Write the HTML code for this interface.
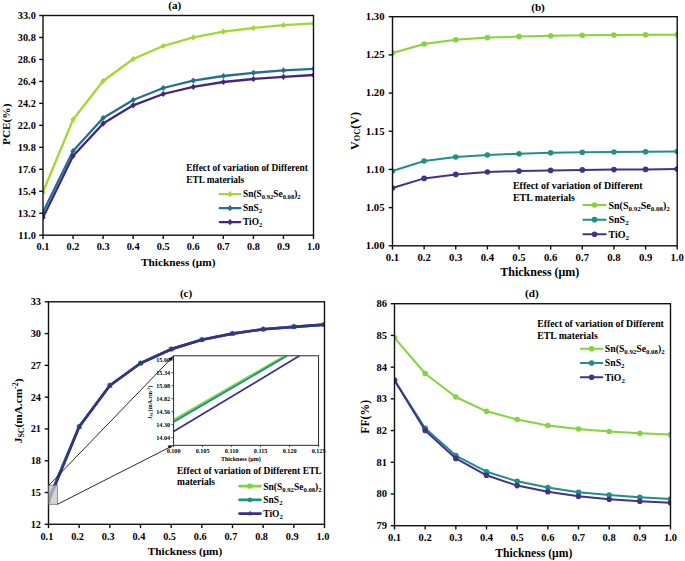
<!DOCTYPE html>
<html><head><meta charset="utf-8"><style>
html,body{margin:0;padding:0;background:#fff;}
svg{display:block;}
text{font-family:'Liberation Serif',serif;font-weight:bold;fill:#000;}
</style></head><body>
<svg width="685" height="561" viewBox="0 0 685 561">
<clipPath id="ca"><rect x="43" y="15.5" width="270.5" height="219.7"/></clipPath>
<g clip-path="url(#ca)">
<polyline points="43.00,192.00 73.06,119.50 103.11,81.00 133.17,59.00 163.22,46.00 193.28,37.40 223.33,31.60 253.39,28.00 283.44,25.20 313.50,23.40" fill="none" stroke="#a2d830" stroke-width="2.3" stroke-linejoin="round"/>
<path d="M43.00,188.90L45.73,192.00L43.00,195.10L40.27,192.00Z" fill="#a2d830"/>
<path d="M73.06,116.40L75.78,119.50L73.06,122.60L70.33,119.50Z" fill="#a2d830"/>
<path d="M103.11,77.90L105.84,81.00L103.11,84.10L100.38,81.00Z" fill="#a2d830"/>
<path d="M133.17,55.90L135.89,59.00L133.17,62.10L130.44,59.00Z" fill="#a2d830"/>
<path d="M163.22,42.90L165.95,46.00L163.22,49.10L160.49,46.00Z" fill="#a2d830"/>
<path d="M193.28,34.30L196.01,37.40L193.28,40.50L190.55,37.40Z" fill="#a2d830"/>
<path d="M223.33,28.50L226.06,31.60L223.33,34.70L220.61,31.60Z" fill="#a2d830"/>
<path d="M253.39,24.90L256.12,28.00L253.39,31.10L250.66,28.00Z" fill="#a2d830"/>
<path d="M283.44,22.10L286.17,25.20L283.44,28.30L280.72,25.20Z" fill="#a2d830"/>
<path d="M313.50,20.30L316.23,23.40L313.50,26.50L310.77,23.40Z" fill="#a2d830"/>
<polyline points="43.00,212.00 73.06,151.00 103.11,118.00 133.17,100.00 163.22,88.00 193.28,80.60 223.33,76.00 253.39,72.80 283.44,70.40 313.50,68.80" fill="none" stroke="#23708c" stroke-width="2.3" stroke-linejoin="round"/>
<path d="M43.00,208.90L45.73,212.00L43.00,215.10L40.27,212.00Z" fill="#23708c"/>
<path d="M73.06,147.90L75.78,151.00L73.06,154.10L70.33,151.00Z" fill="#23708c"/>
<path d="M103.11,114.90L105.84,118.00L103.11,121.10L100.38,118.00Z" fill="#23708c"/>
<path d="M133.17,96.90L135.89,100.00L133.17,103.10L130.44,100.00Z" fill="#23708c"/>
<path d="M163.22,84.90L165.95,88.00L163.22,91.10L160.49,88.00Z" fill="#23708c"/>
<path d="M193.28,77.50L196.01,80.60L193.28,83.70L190.55,80.60Z" fill="#23708c"/>
<path d="M223.33,72.90L226.06,76.00L223.33,79.10L220.61,76.00Z" fill="#23708c"/>
<path d="M253.39,69.70L256.12,72.80L253.39,75.90L250.66,72.80Z" fill="#23708c"/>
<path d="M283.44,67.30L286.17,70.40L283.44,73.50L280.72,70.40Z" fill="#23708c"/>
<path d="M313.50,65.70L316.23,68.80L313.50,71.90L310.77,68.80Z" fill="#23708c"/>
<polyline points="43.00,217.50 73.06,156.00 103.11,123.60 133.17,105.30 163.22,94.00 193.28,86.80 223.33,82.00 253.39,79.00 283.44,76.80 313.50,75.00" fill="none" stroke="#462580" stroke-width="2.3" stroke-linejoin="round"/>
<path d="M43.00,214.40L45.73,217.50L43.00,220.60L40.27,217.50Z" fill="#462580"/>
<path d="M73.06,152.90L75.78,156.00L73.06,159.10L70.33,156.00Z" fill="#462580"/>
<path d="M103.11,120.50L105.84,123.60L103.11,126.70L100.38,123.60Z" fill="#462580"/>
<path d="M133.17,102.20L135.89,105.30L133.17,108.40L130.44,105.30Z" fill="#462580"/>
<path d="M163.22,90.90L165.95,94.00L163.22,97.10L160.49,94.00Z" fill="#462580"/>
<path d="M193.28,83.70L196.01,86.80L193.28,89.90L190.55,86.80Z" fill="#462580"/>
<path d="M223.33,78.90L226.06,82.00L223.33,85.10L220.61,82.00Z" fill="#462580"/>
<path d="M253.39,75.90L256.12,79.00L253.39,82.10L250.66,79.00Z" fill="#462580"/>
<path d="M283.44,73.70L286.17,76.80L283.44,79.90L280.72,76.80Z" fill="#462580"/>
<path d="M313.50,71.90L316.23,75.00L313.50,78.10L310.77,75.00Z" fill="#462580"/>
</g>
<rect x="43" y="15.5" width="270.5" height="219.7" fill="none" stroke="#111" stroke-width="1.4"/>
<line x1="39.2" y1="235.20" x2="43" y2="235.20" stroke="#111" stroke-width="1.4"/>
<text x="35.80" y="238.60" font-size="10.3" text-anchor="end" >11.0</text>
<line x1="39.2" y1="213.23" x2="43" y2="213.23" stroke="#111" stroke-width="1.4"/>
<text x="35.80" y="216.63" font-size="10.3" text-anchor="end" >13.2</text>
<line x1="39.2" y1="191.26" x2="43" y2="191.26" stroke="#111" stroke-width="1.4"/>
<text x="35.80" y="194.66" font-size="10.3" text-anchor="end" >15.4</text>
<line x1="39.2" y1="169.29" x2="43" y2="169.29" stroke="#111" stroke-width="1.4"/>
<text x="35.80" y="172.69" font-size="10.3" text-anchor="end" >17.6</text>
<line x1="39.2" y1="147.32" x2="43" y2="147.32" stroke="#111" stroke-width="1.4"/>
<text x="35.80" y="150.72" font-size="10.3" text-anchor="end" >19.8</text>
<line x1="39.2" y1="125.35" x2="43" y2="125.35" stroke="#111" stroke-width="1.4"/>
<text x="35.80" y="128.75" font-size="10.3" text-anchor="end" >22.0</text>
<line x1="39.2" y1="103.38" x2="43" y2="103.38" stroke="#111" stroke-width="1.4"/>
<text x="35.80" y="106.78" font-size="10.3" text-anchor="end" >24.2</text>
<line x1="39.2" y1="81.41" x2="43" y2="81.41" stroke="#111" stroke-width="1.4"/>
<text x="35.80" y="84.81" font-size="10.3" text-anchor="end" >26.4</text>
<line x1="39.2" y1="59.44" x2="43" y2="59.44" stroke="#111" stroke-width="1.4"/>
<text x="35.80" y="62.84" font-size="10.3" text-anchor="end" >28.6</text>
<line x1="39.2" y1="37.47" x2="43" y2="37.47" stroke="#111" stroke-width="1.4"/>
<text x="35.80" y="40.87" font-size="10.3" text-anchor="end" >30.8</text>
<line x1="39.2" y1="15.50" x2="43" y2="15.50" stroke="#111" stroke-width="1.4"/>
<text x="35.80" y="18.90" font-size="10.3" text-anchor="end" >33.0</text>
<line x1="43.00" y1="235.2" x2="43.00" y2="239.0" stroke="#111" stroke-width="1.4"/>
<text x="43.00" y="250.00" font-size="10.3" text-anchor="middle" >0.1</text>
<line x1="73.06" y1="235.2" x2="73.06" y2="239.0" stroke="#111" stroke-width="1.4"/>
<text x="73.06" y="250.00" font-size="10.3" text-anchor="middle" >0.2</text>
<line x1="103.11" y1="235.2" x2="103.11" y2="239.0" stroke="#111" stroke-width="1.4"/>
<text x="103.11" y="250.00" font-size="10.3" text-anchor="middle" >0.3</text>
<line x1="133.17" y1="235.2" x2="133.17" y2="239.0" stroke="#111" stroke-width="1.4"/>
<text x="133.17" y="250.00" font-size="10.3" text-anchor="middle" >0.4</text>
<line x1="163.22" y1="235.2" x2="163.22" y2="239.0" stroke="#111" stroke-width="1.4"/>
<text x="163.22" y="250.00" font-size="10.3" text-anchor="middle" >0.5</text>
<line x1="193.28" y1="235.2" x2="193.28" y2="239.0" stroke="#111" stroke-width="1.4"/>
<text x="193.28" y="250.00" font-size="10.3" text-anchor="middle" >0.6</text>
<line x1="223.33" y1="235.2" x2="223.33" y2="239.0" stroke="#111" stroke-width="1.4"/>
<text x="223.33" y="250.00" font-size="10.3" text-anchor="middle" >0.7</text>
<line x1="253.39" y1="235.2" x2="253.39" y2="239.0" stroke="#111" stroke-width="1.4"/>
<text x="253.39" y="250.00" font-size="10.3" text-anchor="middle" >0.8</text>
<line x1="283.44" y1="235.2" x2="283.44" y2="239.0" stroke="#111" stroke-width="1.4"/>
<text x="283.44" y="250.00" font-size="10.3" text-anchor="middle" >0.9</text>
<line x1="313.50" y1="235.2" x2="313.50" y2="239.0" stroke="#111" stroke-width="1.4"/>
<text x="313.50" y="250.00" font-size="10.3" text-anchor="middle" >1.0</text>
<text x="178.20" y="265.70" font-size="11.3" text-anchor="middle" >Thickness (μm)</text>
<text x="174.80" y="9.40" font-size="11.2" text-anchor="middle" >(a)</text>
<text transform="translate(9.6,124.3) rotate(-90)" font-size="11.3" text-anchor="middle">PCE(%)</text>
<text x="186.20" y="170.90" font-size="9.4" text-anchor="start" >Effect of variation of Different</text>
<text x="186.20" y="183.00" font-size="9.4" text-anchor="start" >ETL materials</text>
<line x1="219.8" y1="194.20" x2="240.3" y2="194.20" stroke="#a2d830" stroke-width="2.3" stroke-linecap="round"/>
<path d="M230.05,191.10L232.78,194.20L230.05,197.30L227.32,194.20Z" fill="#a2d830"/>
<text x="243.0" y="197.40" font-size="9.4">Sn(S<tspan font-size="70%" dy="2">0.92</tspan><tspan dy="-2">Se</tspan><tspan font-size="70%" dy="2">0.08</tspan><tspan dy="-2">)</tspan><tspan font-size="70%" dy="2">2</tspan></text>
<line x1="219.8" y1="208.15" x2="240.3" y2="208.15" stroke="#23708c" stroke-width="2.3" stroke-linecap="round"/>
<path d="M230.05,205.05L232.78,208.15L230.05,211.25L227.32,208.15Z" fill="#23708c"/>
<text x="243.0" y="211.35" font-size="9.4">SnS<tspan font-size="70%" dy="2">2</tspan></text>
<line x1="219.8" y1="222.10" x2="240.3" y2="222.10" stroke="#462580" stroke-width="2.3" stroke-linecap="round"/>
<path d="M230.05,219.00L232.78,222.10L230.05,225.20L227.32,222.10Z" fill="#462580"/>
<text x="243.0" y="225.30" font-size="9.4">TiO<tspan font-size="70%" dy="2">2</tspan></text>
<clipPath id="cb"><rect x="392.5" y="16.7" width="284.70000000000005" height="229.10000000000002"/></clipPath>
<g clip-path="url(#cb)">
<polyline points="392.50,53.00 424.13,44.00 455.77,39.80 487.40,37.60 519.03,36.60 550.67,35.80 582.30,35.30 613.93,35.10 645.57,34.80 677.20,34.80" fill="none" stroke="#84d43c" stroke-width="2" stroke-linejoin="round"/>
<circle cx="392.50" cy="53.00" r="2.80" fill="#84d43c"/>
<circle cx="424.13" cy="44.00" r="2.80" fill="#84d43c"/>
<circle cx="455.77" cy="39.80" r="2.80" fill="#84d43c"/>
<circle cx="487.40" cy="37.60" r="2.80" fill="#84d43c"/>
<circle cx="519.03" cy="36.60" r="2.80" fill="#84d43c"/>
<circle cx="550.67" cy="35.80" r="2.80" fill="#84d43c"/>
<circle cx="582.30" cy="35.30" r="2.80" fill="#84d43c"/>
<circle cx="613.93" cy="35.10" r="2.80" fill="#84d43c"/>
<circle cx="645.57" cy="34.80" r="2.80" fill="#84d43c"/>
<circle cx="677.20" cy="34.80" r="2.80" fill="#84d43c"/>
<polyline points="392.50,171.00 424.13,161.00 455.77,157.00 487.40,155.00 519.03,153.70 550.67,152.80 582.30,152.30 613.93,152.00 645.57,151.80 677.20,151.50" fill="none" stroke="#1e9088" stroke-width="2" stroke-linejoin="round"/>
<circle cx="392.50" cy="171.00" r="2.80" fill="#1e9088"/>
<circle cx="424.13" cy="161.00" r="2.80" fill="#1e9088"/>
<circle cx="455.77" cy="157.00" r="2.80" fill="#1e9088"/>
<circle cx="487.40" cy="155.00" r="2.80" fill="#1e9088"/>
<circle cx="519.03" cy="153.70" r="2.80" fill="#1e9088"/>
<circle cx="550.67" cy="152.80" r="2.80" fill="#1e9088"/>
<circle cx="582.30" cy="152.30" r="2.80" fill="#1e9088"/>
<circle cx="613.93" cy="152.00" r="2.80" fill="#1e9088"/>
<circle cx="645.57" cy="151.80" r="2.80" fill="#1e9088"/>
<circle cx="677.20" cy="151.50" r="2.80" fill="#1e9088"/>
<polyline points="392.50,188.00 424.13,178.40 455.77,174.40 487.40,172.00 519.03,171.10 550.67,170.40 582.30,169.90 613.93,169.60 645.57,169.40 677.20,169.10" fill="none" stroke="#44318a" stroke-width="2" stroke-linejoin="round"/>
<circle cx="392.50" cy="188.00" r="2.80" fill="#44318a"/>
<circle cx="424.13" cy="178.40" r="2.80" fill="#44318a"/>
<circle cx="455.77" cy="174.40" r="2.80" fill="#44318a"/>
<circle cx="487.40" cy="172.00" r="2.80" fill="#44318a"/>
<circle cx="519.03" cy="171.10" r="2.80" fill="#44318a"/>
<circle cx="550.67" cy="170.40" r="2.80" fill="#44318a"/>
<circle cx="582.30" cy="169.90" r="2.80" fill="#44318a"/>
<circle cx="613.93" cy="169.60" r="2.80" fill="#44318a"/>
<circle cx="645.57" cy="169.40" r="2.80" fill="#44318a"/>
<circle cx="677.20" cy="169.10" r="2.80" fill="#44318a"/>
</g>
<rect x="392.5" y="16.7" width="284.70000000000005" height="229.10000000000002" fill="none" stroke="#111" stroke-width="1.4"/>
<line x1="388.7" y1="245.80" x2="392.5" y2="245.80" stroke="#111" stroke-width="1.4"/>
<text x="384.50" y="249.20" font-size="10.7" text-anchor="end" >1.00</text>
<line x1="388.7" y1="207.62" x2="392.5" y2="207.62" stroke="#111" stroke-width="1.4"/>
<text x="384.50" y="211.02" font-size="10.7" text-anchor="end" >1.05</text>
<line x1="388.7" y1="169.43" x2="392.5" y2="169.43" stroke="#111" stroke-width="1.4"/>
<text x="384.50" y="172.83" font-size="10.7" text-anchor="end" >1.10</text>
<line x1="388.7" y1="131.25" x2="392.5" y2="131.25" stroke="#111" stroke-width="1.4"/>
<text x="384.50" y="134.65" font-size="10.7" text-anchor="end" >1.15</text>
<line x1="388.7" y1="93.07" x2="392.5" y2="93.07" stroke="#111" stroke-width="1.4"/>
<text x="384.50" y="96.47" font-size="10.7" text-anchor="end" >1.20</text>
<line x1="388.7" y1="54.88" x2="392.5" y2="54.88" stroke="#111" stroke-width="1.4"/>
<text x="384.50" y="58.28" font-size="10.7" text-anchor="end" >1.25</text>
<line x1="388.7" y1="16.70" x2="392.5" y2="16.70" stroke="#111" stroke-width="1.4"/>
<text x="384.50" y="20.10" font-size="10.7" text-anchor="end" >1.30</text>
<line x1="392.50" y1="245.8" x2="392.50" y2="249.60000000000002" stroke="#111" stroke-width="1.4"/>
<text x="392.50" y="261.20" font-size="10.7" text-anchor="middle" >0.1</text>
<line x1="424.13" y1="245.8" x2="424.13" y2="249.60000000000002" stroke="#111" stroke-width="1.4"/>
<text x="424.13" y="261.20" font-size="10.7" text-anchor="middle" >0.2</text>
<line x1="455.77" y1="245.8" x2="455.77" y2="249.60000000000002" stroke="#111" stroke-width="1.4"/>
<text x="455.77" y="261.20" font-size="10.7" text-anchor="middle" >0.3</text>
<line x1="487.40" y1="245.8" x2="487.40" y2="249.60000000000002" stroke="#111" stroke-width="1.4"/>
<text x="487.40" y="261.20" font-size="10.7" text-anchor="middle" >0.4</text>
<line x1="519.03" y1="245.8" x2="519.03" y2="249.60000000000002" stroke="#111" stroke-width="1.4"/>
<text x="519.03" y="261.20" font-size="10.7" text-anchor="middle" >0.5</text>
<line x1="550.67" y1="245.8" x2="550.67" y2="249.60000000000002" stroke="#111" stroke-width="1.4"/>
<text x="550.67" y="261.20" font-size="10.7" text-anchor="middle" >0.6</text>
<line x1="582.30" y1="245.8" x2="582.30" y2="249.60000000000002" stroke="#111" stroke-width="1.4"/>
<text x="582.30" y="261.20" font-size="10.7" text-anchor="middle" >0.7</text>
<line x1="613.93" y1="245.8" x2="613.93" y2="249.60000000000002" stroke="#111" stroke-width="1.4"/>
<text x="613.93" y="261.20" font-size="10.7" text-anchor="middle" >0.8</text>
<line x1="645.57" y1="245.8" x2="645.57" y2="249.60000000000002" stroke="#111" stroke-width="1.4"/>
<text x="645.57" y="261.20" font-size="10.7" text-anchor="middle" >0.9</text>
<line x1="677.20" y1="245.8" x2="677.20" y2="249.60000000000002" stroke="#111" stroke-width="1.4"/>
<text x="677.20" y="261.20" font-size="10.7" text-anchor="middle" >1.0</text>
<text x="539.80" y="275.70" font-size="12" text-anchor="middle" >Thickness (μm)</text>
<text x="538.00" y="10.80" font-size="11.2" text-anchor="middle" >(b)</text>
<text transform="translate(358.7,131) rotate(-90)" font-size="12" text-anchor="middle">V<tspan font-size="70%" dy="1.5">OC</tspan><tspan dy="-1.5">(V)</tspan></text>
<text x="512.90" y="188.70" font-size="10" text-anchor="start" >Effect of variation of Different</text>
<text x="512.90" y="200.70" font-size="10" text-anchor="start" >ETL materials</text>
<line x1="583.4" y1="205.00" x2="605.7" y2="205.00" stroke="#84d43c" stroke-width="2" stroke-linecap="round"/>
<circle cx="594.55" cy="205.00" r="2.80" fill="#84d43c"/>
<text x="608.5" y="208.60" font-size="10">Sn(S<tspan font-size="70%" dy="2">0.92</tspan><tspan dy="-2">Se</tspan><tspan font-size="70%" dy="2">0.08</tspan><tspan dy="-2">)</tspan><tspan font-size="70%" dy="2">2</tspan></text>
<line x1="583.4" y1="219.65" x2="605.7" y2="219.65" stroke="#1e9088" stroke-width="2" stroke-linecap="round"/>
<circle cx="594.55" cy="219.65" r="2.80" fill="#1e9088"/>
<text x="608.5" y="223.25" font-size="10">SnS<tspan font-size="70%" dy="2">2</tspan></text>
<line x1="583.4" y1="234.30" x2="605.7" y2="234.30" stroke="#44318a" stroke-width="2" stroke-linecap="round"/>
<circle cx="594.55" cy="234.30" r="2.80" fill="#44318a"/>
<text x="608.5" y="237.90" font-size="10">TiO<tspan font-size="70%" dy="2">2</tspan></text>
<clipPath id="cc"><rect x="48.5" y="301.8" width="276.0" height="222.49999999999994"/></clipPath>
<g clip-path="url(#cc)">
<polyline points="48.50,499.19 79.17,426.72 109.83,385.50 140.50,363.25 171.17,349.16 201.83,339.73 232.50,333.59 263.17,329.24 293.83,326.80 324.50,324.69" fill="none" stroke="#84d43c" stroke-width="2.7" stroke-linejoin="round"/>
<rect x="46.05" y="496.74" width="4.90" height="4.90" fill="#84d43c"/>
<rect x="76.72" y="424.27" width="4.90" height="4.90" fill="#84d43c"/>
<rect x="107.38" y="383.05" width="4.90" height="4.90" fill="#84d43c"/>
<rect x="138.05" y="360.80" width="4.90" height="4.90" fill="#84d43c"/>
<rect x="168.72" y="346.71" width="4.90" height="4.90" fill="#84d43c"/>
<rect x="199.38" y="337.28" width="4.90" height="4.90" fill="#84d43c"/>
<rect x="230.05" y="331.14" width="4.90" height="4.90" fill="#84d43c"/>
<rect x="260.72" y="326.79" width="4.90" height="4.90" fill="#84d43c"/>
<rect x="291.38" y="324.35" width="4.90" height="4.90" fill="#84d43c"/>
<rect x="322.05" y="322.24" width="4.90" height="4.90" fill="#84d43c"/>
<polyline points="48.50,499.40 79.17,426.72 109.83,385.50 140.50,363.25 171.17,349.16 201.83,339.73 232.50,333.59 263.17,329.24 293.83,326.80 324.50,324.69" fill="none" stroke="#1e9088" stroke-width="2.7" stroke-linejoin="round"/>
<circle cx="48.50" cy="499.40" r="2.45" fill="#1e9088"/>
<circle cx="79.17" cy="426.72" r="2.45" fill="#1e9088"/>
<circle cx="109.83" cy="385.50" r="2.45" fill="#1e9088"/>
<circle cx="140.50" cy="363.25" r="2.45" fill="#1e9088"/>
<circle cx="171.17" cy="349.16" r="2.45" fill="#1e9088"/>
<circle cx="201.83" cy="339.73" r="2.45" fill="#1e9088"/>
<circle cx="232.50" cy="333.59" r="2.45" fill="#1e9088"/>
<circle cx="263.17" cy="329.24" r="2.45" fill="#1e9088"/>
<circle cx="293.83" cy="326.80" r="2.45" fill="#1e9088"/>
<circle cx="324.50" cy="324.69" r="2.45" fill="#1e9088"/>
<polyline points="48.50,501.52 79.17,426.72 109.83,385.50 140.50,363.25 171.17,349.16 201.83,339.73 232.50,333.59 263.17,329.24 293.83,326.80 324.50,324.69" fill="none" stroke="#3d2e8c" stroke-width="2.7" stroke-linejoin="round"/>
<path d="M48.50,498.34L50.95,503.24L46.05,503.24Z" fill="#3d2e8c"/>
<path d="M79.17,423.53L81.62,428.43L76.72,428.43Z" fill="#3d2e8c"/>
<path d="M109.83,382.32L112.28,387.22L107.38,387.22Z" fill="#3d2e8c"/>
<path d="M140.50,360.07L142.95,364.97L138.05,364.97Z" fill="#3d2e8c"/>
<path d="M171.17,345.98L173.62,350.88L168.72,350.88Z" fill="#3d2e8c"/>
<path d="M201.83,336.55L204.28,341.45L199.38,341.45Z" fill="#3d2e8c"/>
<path d="M232.50,330.40L234.95,335.30L230.05,335.30Z" fill="#3d2e8c"/>
<path d="M263.17,326.06L265.62,330.96L260.72,330.96Z" fill="#3d2e8c"/>
<path d="M293.83,323.62L296.28,328.52L291.38,328.52Z" fill="#3d2e8c"/>
<path d="M324.50,321.50L326.95,326.40L322.05,326.40Z" fill="#3d2e8c"/>
</g>
<rect x="48.5" y="301.8" width="276.0" height="222.49999999999994" fill="none" stroke="#111" stroke-width="1.4"/>
<line x1="44.7" y1="524.30" x2="48.5" y2="524.30" stroke="#111" stroke-width="1.4"/>
<text x="41.00" y="527.70" font-size="10.3" text-anchor="end" >12</text>
<line x1="44.7" y1="492.51" x2="48.5" y2="492.51" stroke="#111" stroke-width="1.4"/>
<text x="41.00" y="495.91" font-size="10.3" text-anchor="end" >15</text>
<line x1="44.7" y1="460.73" x2="48.5" y2="460.73" stroke="#111" stroke-width="1.4"/>
<text x="41.00" y="464.13" font-size="10.3" text-anchor="end" >18</text>
<line x1="44.7" y1="428.94" x2="48.5" y2="428.94" stroke="#111" stroke-width="1.4"/>
<text x="41.00" y="432.34" font-size="10.3" text-anchor="end" >21</text>
<line x1="44.7" y1="397.16" x2="48.5" y2="397.16" stroke="#111" stroke-width="1.4"/>
<text x="41.00" y="400.56" font-size="10.3" text-anchor="end" >24</text>
<line x1="44.7" y1="365.37" x2="48.5" y2="365.37" stroke="#111" stroke-width="1.4"/>
<text x="41.00" y="368.77" font-size="10.3" text-anchor="end" >27</text>
<line x1="44.7" y1="333.59" x2="48.5" y2="333.59" stroke="#111" stroke-width="1.4"/>
<text x="41.00" y="336.99" font-size="10.3" text-anchor="end" >30</text>
<line x1="44.7" y1="301.80" x2="48.5" y2="301.80" stroke="#111" stroke-width="1.4"/>
<text x="41.00" y="305.20" font-size="10.3" text-anchor="end" >33</text>
<line x1="48.50" y1="524.3" x2="48.50" y2="528.0999999999999" stroke="#111" stroke-width="1.4"/>
<text x="46.90" y="539.50" font-size="10.3" text-anchor="middle" >0.1</text>
<line x1="79.17" y1="524.3" x2="79.17" y2="528.0999999999999" stroke="#111" stroke-width="1.4"/>
<text x="77.57" y="539.50" font-size="10.3" text-anchor="middle" >0.2</text>
<line x1="109.83" y1="524.3" x2="109.83" y2="528.0999999999999" stroke="#111" stroke-width="1.4"/>
<text x="108.23" y="539.50" font-size="10.3" text-anchor="middle" >0.3</text>
<line x1="140.50" y1="524.3" x2="140.50" y2="528.0999999999999" stroke="#111" stroke-width="1.4"/>
<text x="138.90" y="539.50" font-size="10.3" text-anchor="middle" >0.4</text>
<line x1="171.17" y1="524.3" x2="171.17" y2="528.0999999999999" stroke="#111" stroke-width="1.4"/>
<text x="169.57" y="539.50" font-size="10.3" text-anchor="middle" >0.5</text>
<line x1="201.83" y1="524.3" x2="201.83" y2="528.0999999999999" stroke="#111" stroke-width="1.4"/>
<text x="200.23" y="539.50" font-size="10.3" text-anchor="middle" >0.6</text>
<line x1="232.50" y1="524.3" x2="232.50" y2="528.0999999999999" stroke="#111" stroke-width="1.4"/>
<text x="230.90" y="539.50" font-size="10.3" text-anchor="middle" >0.7</text>
<line x1="263.17" y1="524.3" x2="263.17" y2="528.0999999999999" stroke="#111" stroke-width="1.4"/>
<text x="261.57" y="539.50" font-size="10.3" text-anchor="middle" >0.8</text>
<line x1="293.83" y1="524.3" x2="293.83" y2="528.0999999999999" stroke="#111" stroke-width="1.4"/>
<text x="292.23" y="539.50" font-size="10.3" text-anchor="middle" >0.9</text>
<line x1="324.50" y1="524.3" x2="324.50" y2="528.0999999999999" stroke="#111" stroke-width="1.4"/>
<text x="322.90" y="539.50" font-size="10.3" text-anchor="middle" >1.0</text>
<text x="185.00" y="555.20" font-size="11.3" text-anchor="middle" >Thickness (μm)</text>
<text x="186.10" y="296.60" font-size="11.2" text-anchor="middle" >(c)</text>
<text transform="translate(22,410.9) rotate(-90)" font-size="11.3" text-anchor="middle">J<tspan font-size="70%" dy="2">SC</tspan><tspan dy="-2">(mA.cm</tspan><tspan font-size="70%" dy="-4">-2</tspan><tspan dy="4">)</tspan></text>
<text x="177.00" y="473.50" font-size="9.5" text-anchor="start" >Effect of variation of Different ETL</text>
<text x="177.00" y="484.50" font-size="9.5" text-anchor="start" >materials</text>
<line x1="239.5" y1="486.10" x2="260.5" y2="486.10" stroke="#84d43c" stroke-width="2.7" stroke-linecap="round"/>
<rect x="247.55" y="483.65" width="4.90" height="4.90" fill="#84d43c"/>
<text x="263.3" y="489.50" font-size="9.5">Sn(S<tspan font-size="70%" dy="2">0.92</tspan><tspan dy="-2">Se</tspan><tspan font-size="70%" dy="2">0.08</tspan><tspan dy="-2">)</tspan><tspan font-size="70%" dy="2">2</tspan></text>
<line x1="239.5" y1="499.85" x2="260.5" y2="499.85" stroke="#1e9088" stroke-width="2.7" stroke-linecap="round"/>
<circle cx="250.00" cy="499.85" r="2.45" fill="#1e9088"/>
<text x="263.3" y="503.25" font-size="9.5">SnS<tspan font-size="70%" dy="2">2</tspan></text>
<line x1="239.5" y1="513.60" x2="260.5" y2="513.60" stroke="#3d2e8c" stroke-width="2.7" stroke-linecap="round"/>
<path d="M250.00,510.42L252.45,515.32L247.55,515.32Z" fill="#3d2e8c"/>
<text x="263.3" y="517.00" font-size="9.5">TiO<tspan font-size="70%" dy="2">2</tspan></text>
<clipPath id="cd"><rect x="394.5" y="303.7" width="276.0" height="222.00000000000006"/></clipPath>
<g clip-path="url(#cd)">
<polyline points="394.50,337.80 425.17,373.50 455.83,397.00 486.50,411.30 517.17,419.50 547.83,425.50 578.50,429.00 609.17,431.50 639.83,433.20 670.50,434.40" fill="none" stroke="#84d43c" stroke-width="2" stroke-linejoin="round"/>
<circle cx="394.50" cy="337.80" r="2.80" fill="#84d43c"/>
<circle cx="425.17" cy="373.50" r="2.80" fill="#84d43c"/>
<circle cx="455.83" cy="397.00" r="2.80" fill="#84d43c"/>
<circle cx="486.50" cy="411.30" r="2.80" fill="#84d43c"/>
<circle cx="517.17" cy="419.50" r="2.80" fill="#84d43c"/>
<circle cx="547.83" cy="425.50" r="2.80" fill="#84d43c"/>
<circle cx="578.50" cy="429.00" r="2.80" fill="#84d43c"/>
<circle cx="609.17" cy="431.50" r="2.80" fill="#84d43c"/>
<circle cx="639.83" cy="433.20" r="2.80" fill="#84d43c"/>
<circle cx="670.50" cy="434.40" r="2.80" fill="#84d43c"/>
<polyline points="394.50,380.30 425.17,428.20 455.83,455.60 486.50,471.70 517.17,481.30 547.83,487.60 578.50,492.20 609.17,495.10 639.83,497.20 670.50,499.00" fill="none" stroke="#1e9088" stroke-width="2" stroke-linejoin="round"/>
<circle cx="394.50" cy="380.30" r="2.80" fill="#1e9088"/>
<circle cx="425.17" cy="428.20" r="2.80" fill="#1e9088"/>
<circle cx="455.83" cy="455.60" r="2.80" fill="#1e9088"/>
<circle cx="486.50" cy="471.70" r="2.80" fill="#1e9088"/>
<circle cx="517.17" cy="481.30" r="2.80" fill="#1e9088"/>
<circle cx="547.83" cy="487.60" r="2.80" fill="#1e9088"/>
<circle cx="578.50" cy="492.20" r="2.80" fill="#1e9088"/>
<circle cx="609.17" cy="495.10" r="2.80" fill="#1e9088"/>
<circle cx="639.83" cy="497.20" r="2.80" fill="#1e9088"/>
<circle cx="670.50" cy="499.00" r="2.80" fill="#1e9088"/>
<polyline points="394.50,380.30 425.17,430.40 455.83,458.40 486.50,475.30 517.17,485.60 547.83,491.80 578.50,496.30 609.17,499.20 639.83,501.30 670.50,502.80" fill="none" stroke="#44318a" stroke-width="2" stroke-linejoin="round"/>
<circle cx="394.50" cy="380.30" r="2.80" fill="#44318a"/>
<circle cx="425.17" cy="430.40" r="2.80" fill="#44318a"/>
<circle cx="455.83" cy="458.40" r="2.80" fill="#44318a"/>
<circle cx="486.50" cy="475.30" r="2.80" fill="#44318a"/>
<circle cx="517.17" cy="485.60" r="2.80" fill="#44318a"/>
<circle cx="547.83" cy="491.80" r="2.80" fill="#44318a"/>
<circle cx="578.50" cy="496.30" r="2.80" fill="#44318a"/>
<circle cx="609.17" cy="499.20" r="2.80" fill="#44318a"/>
<circle cx="639.83" cy="501.30" r="2.80" fill="#44318a"/>
<circle cx="670.50" cy="502.80" r="2.80" fill="#44318a"/>
</g>
<rect x="394.5" y="303.7" width="276.0" height="222.00000000000006" fill="none" stroke="#111" stroke-width="1.4"/>
<line x1="390.7" y1="525.70" x2="394.5" y2="525.70" stroke="#111" stroke-width="1.4"/>
<text x="387.00" y="529.10" font-size="10.5" text-anchor="end" >79</text>
<line x1="390.7" y1="493.99" x2="394.5" y2="493.99" stroke="#111" stroke-width="1.4"/>
<text x="387.00" y="497.39" font-size="10.5" text-anchor="end" >80</text>
<line x1="390.7" y1="462.27" x2="394.5" y2="462.27" stroke="#111" stroke-width="1.4"/>
<text x="387.00" y="465.67" font-size="10.5" text-anchor="end" >81</text>
<line x1="390.7" y1="430.56" x2="394.5" y2="430.56" stroke="#111" stroke-width="1.4"/>
<text x="387.00" y="433.96" font-size="10.5" text-anchor="end" >82</text>
<line x1="390.7" y1="398.84" x2="394.5" y2="398.84" stroke="#111" stroke-width="1.4"/>
<text x="387.00" y="402.24" font-size="10.5" text-anchor="end" >83</text>
<line x1="390.7" y1="367.13" x2="394.5" y2="367.13" stroke="#111" stroke-width="1.4"/>
<text x="387.00" y="370.53" font-size="10.5" text-anchor="end" >84</text>
<line x1="390.7" y1="335.41" x2="394.5" y2="335.41" stroke="#111" stroke-width="1.4"/>
<text x="387.00" y="338.81" font-size="10.5" text-anchor="end" >85</text>
<line x1="390.7" y1="303.70" x2="394.5" y2="303.70" stroke="#111" stroke-width="1.4"/>
<text x="387.00" y="307.10" font-size="10.5" text-anchor="end" >86</text>
<line x1="394.50" y1="525.7" x2="394.50" y2="529.5" stroke="#111" stroke-width="1.4"/>
<text x="394.50" y="540.70" font-size="10.5" text-anchor="middle" >0.1</text>
<line x1="425.17" y1="525.7" x2="425.17" y2="529.5" stroke="#111" stroke-width="1.4"/>
<text x="425.17" y="540.70" font-size="10.5" text-anchor="middle" >0.2</text>
<line x1="455.83" y1="525.7" x2="455.83" y2="529.5" stroke="#111" stroke-width="1.4"/>
<text x="455.83" y="540.70" font-size="10.5" text-anchor="middle" >0.3</text>
<line x1="486.50" y1="525.7" x2="486.50" y2="529.5" stroke="#111" stroke-width="1.4"/>
<text x="486.50" y="540.70" font-size="10.5" text-anchor="middle" >0.4</text>
<line x1="517.17" y1="525.7" x2="517.17" y2="529.5" stroke="#111" stroke-width="1.4"/>
<text x="517.17" y="540.70" font-size="10.5" text-anchor="middle" >0.5</text>
<line x1="547.83" y1="525.7" x2="547.83" y2="529.5" stroke="#111" stroke-width="1.4"/>
<text x="547.83" y="540.70" font-size="10.5" text-anchor="middle" >0.6</text>
<line x1="578.50" y1="525.7" x2="578.50" y2="529.5" stroke="#111" stroke-width="1.4"/>
<text x="578.50" y="540.70" font-size="10.5" text-anchor="middle" >0.7</text>
<line x1="609.17" y1="525.7" x2="609.17" y2="529.5" stroke="#111" stroke-width="1.4"/>
<text x="609.17" y="540.70" font-size="10.5" text-anchor="middle" >0.8</text>
<line x1="639.83" y1="525.7" x2="639.83" y2="529.5" stroke="#111" stroke-width="1.4"/>
<text x="639.83" y="540.70" font-size="10.5" text-anchor="middle" >0.9</text>
<line x1="670.50" y1="525.7" x2="670.50" y2="529.5" stroke="#111" stroke-width="1.4"/>
<text x="670.50" y="540.70" font-size="10.5" text-anchor="middle" >1.0</text>
<text x="533.80" y="556.80" font-size="11.7" text-anchor="middle" >Thickness (μm)</text>
<text x="531.90" y="296.90" font-size="11.2" text-anchor="middle" >(d)</text>
<text transform="translate(368.5,416.8) rotate(-90)" font-size="11.7" text-anchor="middle">FF(%)</text>
<text x="537.30" y="327.30" font-size="9.75" text-anchor="start" >Effect of variation of Different</text>
<text x="537.30" y="338.90" font-size="9.75" text-anchor="start" >ETL materials</text>
<line x1="580.8" y1="348.80" x2="602.4" y2="348.80" stroke="#84d43c" stroke-width="2" stroke-linecap="round"/>
<circle cx="591.60" cy="348.80" r="2.80" fill="#84d43c"/>
<text x="604.8" y="352.20" font-size="9.75">Sn(S<tspan font-size="70%" dy="2">0.92</tspan><tspan dy="-2">Se</tspan><tspan font-size="70%" dy="2">0.08</tspan><tspan dy="-2">)</tspan><tspan font-size="70%" dy="2">2</tspan></text>
<line x1="580.8" y1="363.05" x2="602.4" y2="363.05" stroke="#1e9088" stroke-width="2" stroke-linecap="round"/>
<circle cx="591.60" cy="363.05" r="2.80" fill="#1e9088"/>
<text x="604.8" y="366.45" font-size="9.75">SnS<tspan font-size="70%" dy="2">2</tspan></text>
<line x1="580.8" y1="377.30" x2="602.4" y2="377.30" stroke="#44318a" stroke-width="2" stroke-linecap="round"/>
<circle cx="591.60" cy="377.30" r="2.80" fill="#44318a"/>
<text x="604.8" y="380.70" font-size="9.75">TiO<tspan font-size="70%" dy="2">2</tspan></text>
<rect x="173.6" y="355.8" width="145.00000000000003" height="89.5" fill="#fff" stroke="#111" stroke-width="0.9"/>
<clipPath id="ci"><rect x="173.6" y="355.8" width="145.00000000000003" height="89.5"/></clipPath>
<g clip-path="url(#ci)">
<line x1="173.6" y1="419.9" x2="284.8" y2="355.8" stroke="#84d43c" stroke-width="2"/>
<line x1="173.6" y1="421.9" x2="287.2" y2="355.8" stroke="#1e9088" stroke-width="1.8"/>
<line x1="173.6" y1="431.6" x2="299.5" y2="355.8" stroke="#3d2e8c" stroke-width="1.7"/>
</g>
<line x1="171.4" y1="437.70" x2="173.6" y2="437.70" stroke="#111" stroke-width="0.7"/>
<text x="170.20" y="439.80" font-size="6.2" text-anchor="end" >14.04</text>
<line x1="171.4" y1="424.72" x2="173.6" y2="424.72" stroke="#111" stroke-width="0.7"/>
<text x="170.20" y="426.82" font-size="6.2" text-anchor="end" >14.30</text>
<line x1="171.4" y1="411.74" x2="173.6" y2="411.74" stroke="#111" stroke-width="0.7"/>
<text x="170.20" y="413.84" font-size="6.2" text-anchor="end" >14.56</text>
<line x1="171.4" y1="398.76" x2="173.6" y2="398.76" stroke="#111" stroke-width="0.7"/>
<text x="170.20" y="400.86" font-size="6.2" text-anchor="end" >14.82</text>
<line x1="171.4" y1="385.78" x2="173.6" y2="385.78" stroke="#111" stroke-width="0.7"/>
<text x="170.20" y="387.88" font-size="6.2" text-anchor="end" >15.08</text>
<line x1="171.4" y1="372.80" x2="173.6" y2="372.80" stroke="#111" stroke-width="0.7"/>
<text x="170.20" y="374.90" font-size="6.2" text-anchor="end" >15.34</text>
<line x1="171.4" y1="359.82" x2="173.6" y2="359.82" stroke="#111" stroke-width="0.7"/>
<text x="170.20" y="361.92" font-size="6.2" text-anchor="end" >15.60</text>
<line x1="173.60" y1="445.3" x2="173.60" y2="447.1" stroke="#111" stroke-width="0.7"/>
<text x="173.60" y="453.30" font-size="6.2" text-anchor="middle" >0.100</text>
<line x1="202.60" y1="445.3" x2="202.60" y2="447.1" stroke="#111" stroke-width="0.7"/>
<text x="202.60" y="453.30" font-size="6.2" text-anchor="middle" >0.105</text>
<line x1="231.60" y1="445.3" x2="231.60" y2="447.1" stroke="#111" stroke-width="0.7"/>
<text x="231.60" y="453.30" font-size="6.2" text-anchor="middle" >0.110</text>
<line x1="260.60" y1="445.3" x2="260.60" y2="447.1" stroke="#111" stroke-width="0.7"/>
<text x="260.60" y="453.30" font-size="6.2" text-anchor="middle" >0.115</text>
<line x1="289.60" y1="445.3" x2="289.60" y2="447.1" stroke="#111" stroke-width="0.7"/>
<text x="289.60" y="453.30" font-size="6.2" text-anchor="middle" >0.120</text>
<line x1="318.60" y1="445.3" x2="318.60" y2="447.1" stroke="#111" stroke-width="0.7"/>
<text x="318.60" y="453.30" font-size="6.2" text-anchor="middle" >0.125</text>
<text x="240.90" y="461.40" font-size="6.05" text-anchor="middle" >Thickness (μm)</text>
<text transform="translate(151.8,402.5) rotate(-90)" font-size="5.9" text-anchor="middle">J<tspan font-size="70%" dy="1">SC</tspan><tspan dy="-1">(mA.cm</tspan><tspan font-size="70%" dy="-2">-2</tspan><tspan dy="2">)</tspan></text>
<rect x="48.8" y="485.3" width="8.6" height="19" fill="#c8c8c8" fill-opacity="0.75" stroke="#777" stroke-width="0.8"/>
<line x1="48.8" y1="485.3" x2="171.5" y2="358.2" stroke="#111" stroke-width="0.9"/>
<line x1="57.4" y1="504.3" x2="170.5" y2="446.8" stroke="#111" stroke-width="0.9"/>
<path d="M173.8,355.8 L168.6,358.6 L171.2,361.3 Z" fill="#111"/>
<path d="M173.8,445.3 L167.7,445.6 L169.3,448.8 Z" fill="#111"/>
</svg>
</body></html>
